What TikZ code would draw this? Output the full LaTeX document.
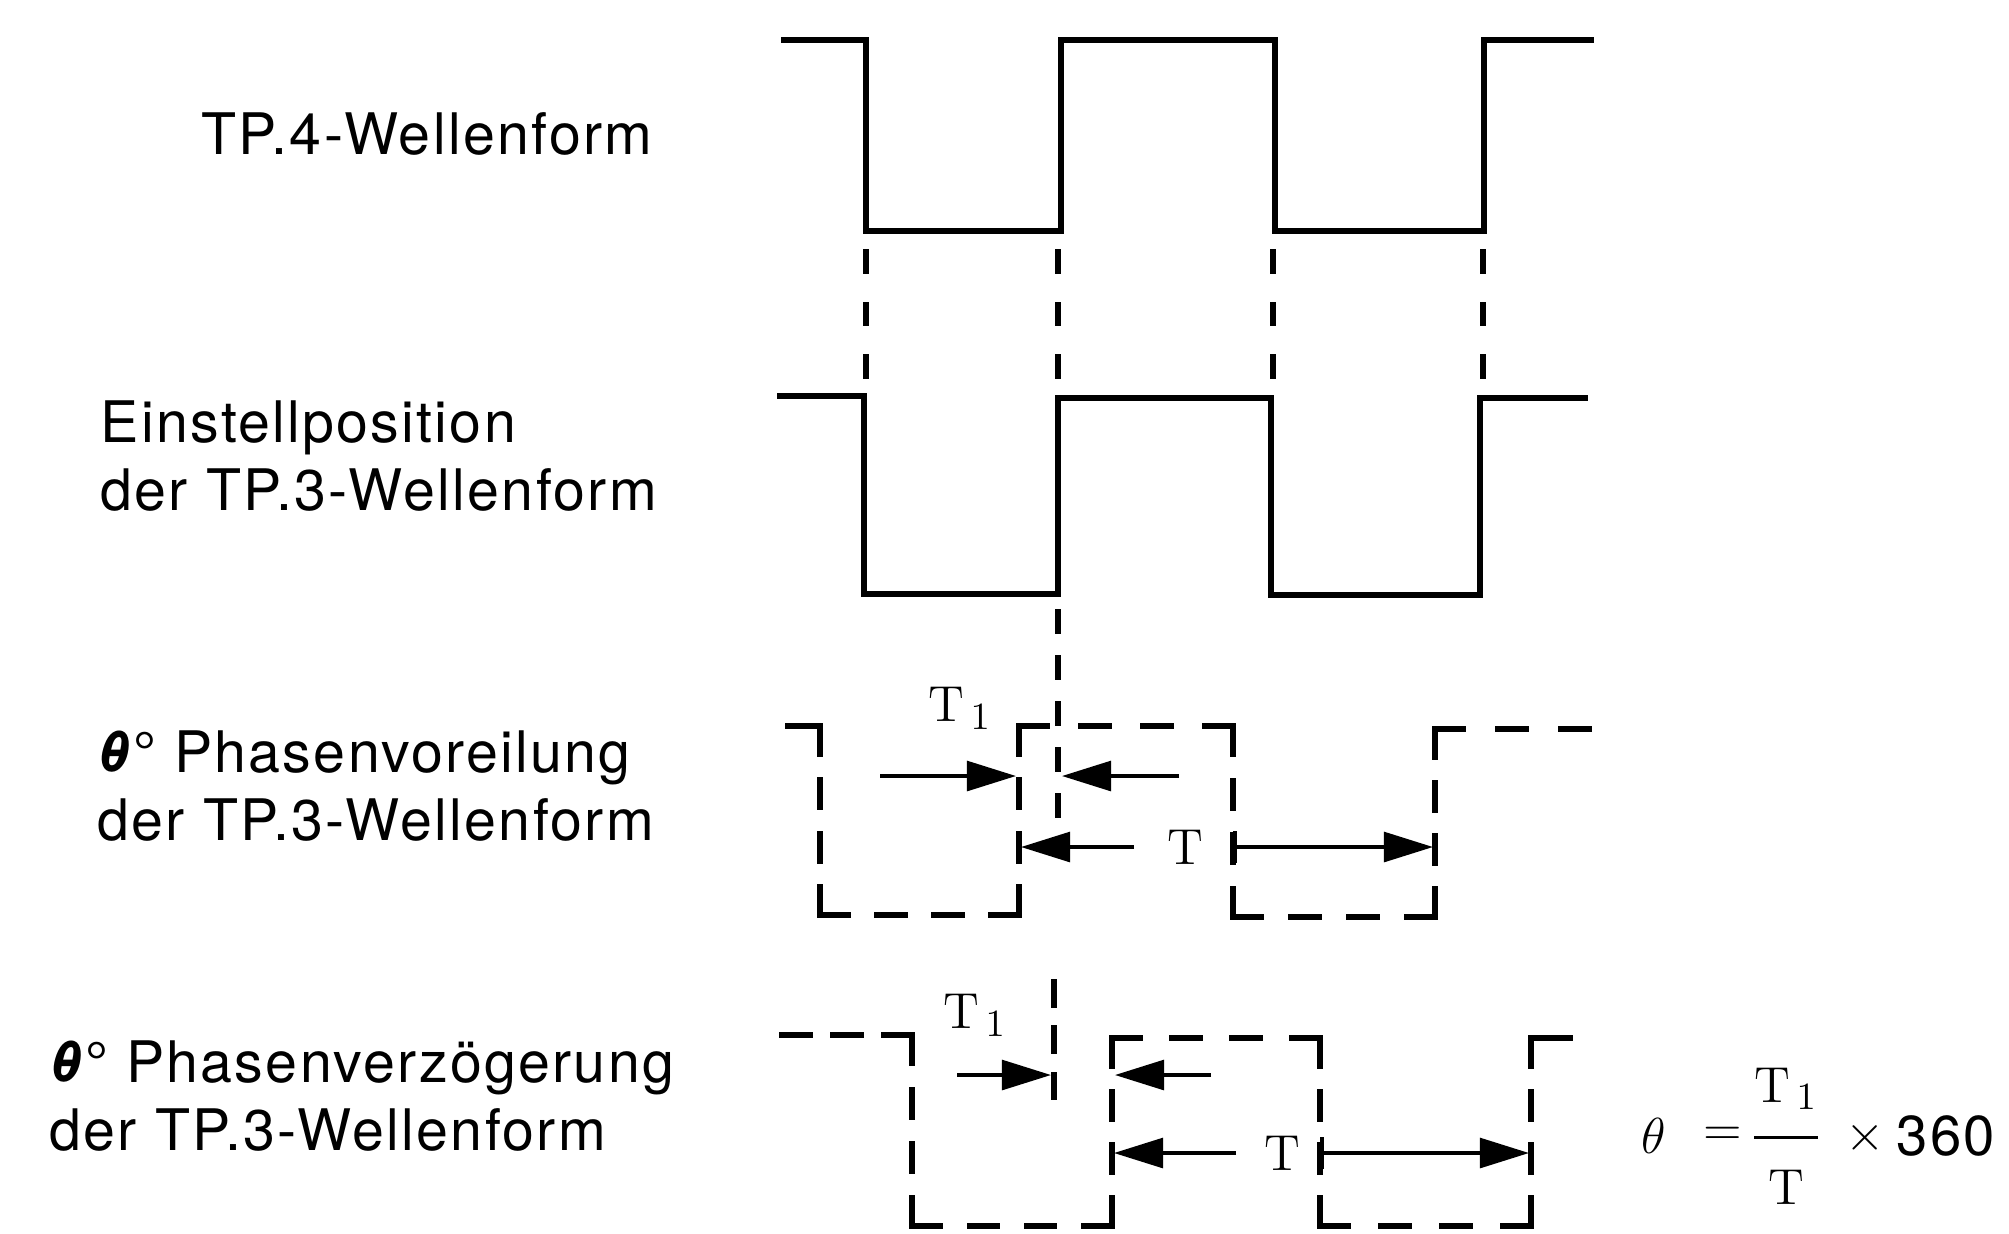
\documentclass[tikz,border=0pt]{standalone}
\usepackage{amsmath}
\usepackage[no-math]{fontspec}
\setmainfont{TeX Gyre Heros}[LetterSpace=4]
\usetikzlibrary{arrows.meta}

% one dashed stroke with #5 dashes, dashes at both ends
\def\dashlen{8}
\newcommand{\dashseg}[5]{%
  \ifnum#5=1
    \draw [wave] (#1,#2) -- (#3,#4);
  \else
    \pgfmathsetmacro{\wseglen}{veclen(#3-#1,#4-#2)*0.284528}%
    \pgfmathsetmacro{\wseggap}{(\wseglen-#5*\dashlen)/(#5-1)}%
    \draw [wave,dash pattern=on \dashlen pt off \wseggap pt] (#1,#2) -- (#3,#4);
  \fi}

\begin{document}
\begin{tikzpicture}[x=0.1mm,y=-0.1mm]

\tikzstyle{wave}=[black,line width=1.5pt,line join=miter,line cap=rect]
\tikzstyle{dimarrow}=[black,line width=1pt,-{Triangle[length=14pt,width=8.5pt]}]
\tikzstyle{sigtext}=[inner sep=0pt,font=\fontsize{16.3}{19.4}\selectfont,align=left]
\tikzstyle{tlabel}=[inner sep=0pt,font=\fontsize{15}{18}\selectfont]
\tikzstyle{fml}=[inner sep=0pt,font=\fontsize{15}{18}\selectfont]
\useasboundingbox (0,0) rectangle (2009,1233);

% labels
\node [sigtext,anchor=north east] (tp4) at (653,112) {TP.4-Wellenform};
\node [sigtext,anchor=north west] (set) at (100,400) {Einstellposition\\der TP.3-Wellenform};
\node [sigtext,anchor=north west] (lead) at (97,730) {\textbf{\textit{θ}}° Phasenvoreilung\\der TP.3-Wellenform};
\node [sigtext,anchor=north west] (lag) at (49,1040) {\textbf{\textit{θ}}° Phasenverzögerung\\der TP.3-Wellenform};

% TP.4 and TP.3 set position
\draw [wave] (784,40) -- (866,40) -- (866,231) -- (1061,231) -- (1061,40) -- (1275,40) -- (1275,231) -- (1484,231) -- (1484,40) -- (1591,40);
\def\dashlen{5.5}
\foreach \x in {866,1058,1273,1483}
  \dashseg{\x}{252}{\x}{376}{3};
\draw [wave] (780,396) -- (864,396) -- (864,594) -- (1058,594) -- (1058,398) -- (1271,398) -- (1271,595) -- (1480,595) -- (1480,398) -- (1585,398);
\dashseg{1058}{612}{1058}{815}{5}

% lead
\def\dashlen{8}
\foreach \xa/\ya/\xb/\yb/\n in {788/726/820/726/1, 820/726/820/915/4, 820/915/1019/915/4,
    1019/915/1019/726/4, 1019/726/1233/726/4, 1233/726/1233/917/4, 1233/917/1435/917/4,
    1435/917/1435/729/4, 1435/729/1589/729/3}
  \dashseg{\xa}{\ya}{\xb}{\yb}{\n};
\node [tlabel] (t1a) at (960,708) {$\mathrm{T}_{\,1}$};
\node [tlabel] (ta) at (1185,847) {$\mathrm{T}$};
\coordinate (l1) at (880,776);
\coordinate (l2) at (1016,776);
\coordinate (l3) at (1179,776);
\coordinate (l4) at (1062,776);
\coordinate (l5) at (1134,847);
\coordinate (l6) at (1021,847);
\coordinate (l7) at (1233,847);
\coordinate (l8) at (1433,847);
\draw [dimarrow] (l1) -- (l2);
\draw [dimarrow] (l3) -- (l4);
\draw [dimarrow] (l5) -- (l6);
\draw [dimarrow,{Bar[width=9pt]}-{Triangle[length=14pt,width=8.5pt]}] (l7) -- (l8);

% lag
\foreach \xa/\ya/\xb/\yb/\n in {782/1035/912/1035/3, 912/1035/912/1226/4, 912/1226/1112/1226/4,
    1112/1226/1112/1038/4, 1112/1038/1320/1038/4, 1320/1038/1320/1226/4, 1320/1226/1531/1226/4,
    1531/1226/1531/1038/4, 1531/1038/1570/1038/1}
  \dashseg{\xa}{\ya}{\xb}{\yb}{\n};
\def\dashlen{6.5}
\dashseg{1054}{982}{1054}{1097}{3}
\node [tlabel] (t1b) at (975,1015) {$\mathrm{T}_{\,1}$};
\node [tlabel] (tb) at (1282,1153) {$\mathrm{T}$};
\coordinate (g1) at (957,1075);
\coordinate (g2) at (1051,1075);
\coordinate (g3) at (1211,1075);
\coordinate (g4) at (1115,1075);
\coordinate (g5) at (1236,1153);
\coordinate (g6) at (1114,1153);
\coordinate (g7) at (1320,1153);
\coordinate (g8) at (1529,1153);
\draw [dimarrow] (g1) -- (g2);
\draw [dimarrow] (g3) -- (g4);
\draw [dimarrow] (g5) -- (g6);
\draw [dimarrow,{Bar[width=9pt]}-{Triangle[length=14pt,width=8.5pt]}] (g7) -- (g8);

% formula
\node [fml] (theta) at (1654,1136) {$\theta$};
\node [fml] (eq) at (1723,1136) {$=$};
\node [fml] (frac) at (1786,1136) {$\dfrac{\mathrm{T}_{\,1}\rule[-8pt]{0pt}{0pt}}{\rule{0pt}{17pt}\mathrm{T}}$};
\node [fml] (times) at (1865,1138) {$\times$};
\node [fml,font=\fontsize{16}{18}\selectfont] (n360) at (1946,1136) {360};
\end{tikzpicture}
\end{document}
